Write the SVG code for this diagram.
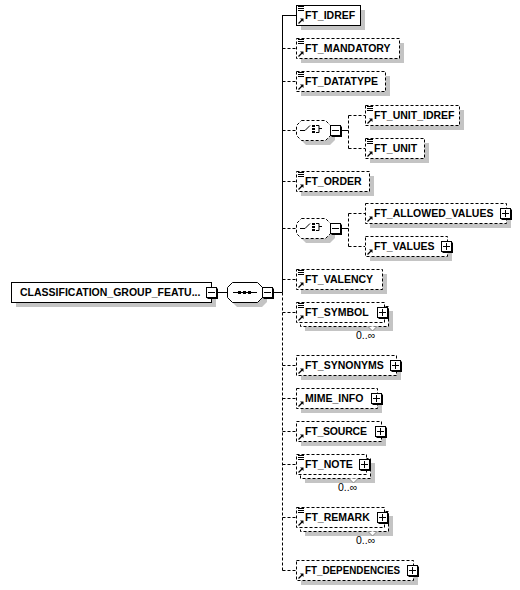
<svg xmlns="http://www.w3.org/2000/svg" xmlns:xlink="http://www.w3.org/1999/xlink" width="520" height="590" viewBox="0 0 520 590">
<style>
.sh{fill:#c4c4c4}
.bx{fill:#fff;stroke:#000;stroke-width:1}
.dash{stroke-dasharray:3,2}
.t{font-family:"Liberation Sans",Arial,sans-serif;font-weight:bold;font-size:10.5px;fill:#000}
.m{font-family:"Liberation Sans",Arial,sans-serif;font-size:10.5px;fill:#000}
.ln{fill:none;stroke:#000;stroke-width:1}
</style>
<defs>
<g id="doc"><path d="M0 0.5h6M0 2.5h6M0 4.5h6" stroke="#000" stroke-width="1"/></g>
<g id="ref"><path d="M1.5 -1.5L5 -5" stroke="#000" stroke-width="1.2"/><path d="M3 -6.5h3.5v3.5z" fill="#000"/></g>
<g id="plus"><rect x="1.5" y="1.5" width="10.5" height="10.5" fill="#000"/><rect x="0.5" y="0.5" width="10" height="10" fill="#fff" stroke="#000"/><path d="M2 5.5h7M5.5 2v7" stroke="#000"/></g>
<g id="minus"><rect x="1.5" y="1.5" width="10.5" height="10.5" fill="#000"/><rect x="0.5" y="0.5" width="10" height="10" fill="#fff" stroke="#000"/><path d="M2 5.5h7" stroke="#000"/></g>
<g id="choiceicon"><path d="M-13 0.5h5l5 -5" fill="none" stroke="#000"/><rect x="-1" y="-5" width="3" height="2" fill="#000"/><rect x="-1" y="-2" width="3" height="2" fill="#000"/><rect x="-1" y="1" width="3" height="2" fill="#000"/><path d="M3 -4.5h3v7h-3M6 -1.5h3" fill="none" stroke="#000"/></g>
</defs>

<g id="connectors">
<path class="ln" d="M216 292.5H227M272 292.5H282.5M282.5 15V292.5M282.5 15.5H296"/>
<path class="ln dash" d="M282.5 292.5V570.5M282.5 48.5H296M282.5 81.5H296M282.5 130.5H296M282.5 181.5H296M282.5 228.5H296M282.5 279.5H296M282.5 312.5H296M282.5 365.5H296M282.5 398.5H296M282.5 431.5H296M282.5 464.5H296M282.5 517.5H296M282.5 570.5H296"/>
<path class="ln" d="M340 130.5H348.5M340 228.5H348.5"/>
<path class="ln dash" d="M348.5 115.5V148.5M348.5 115.5H365M348.5 148.5H365M348.5 213.5V246.5M348.5 213.5H365M348.5 246.5H365"/>
</g>

<g id="root">
<rect class="sh" x="16" y="287" width="200" height="20"/>
<rect class="bx" x="11.5" y="282.5" width="200" height="20"/>
<text class="t" x="20" y="296">CLASSIFICATION_GROUP_FEATU...</text>
<use xlink:href="#minus" x="206" y="287"/>
</g>

<g id="sequence">
<polygon class="sh" points="237,287 262,287 267,292 267,302 262,307 237,307 232,302 232,292"/>
<polygon class="bx" points="232.5,282.5 257.5,282.5 262.5,287.5 262.5,297.5 257.5,302.5 232.5,302.5 227.5,297.5 227.5,287.5"/>
<path class="ln" d="M233 292.5H257"/>
<rect x="238" y="291" width="3" height="3" fill="#000"/>
<rect x="243" y="291" width="3" height="3" fill="#000"/>
<rect x="248" y="291" width="3" height="3" fill="#000"/>
<use xlink:href="#minus" x="262" y="287"/>
</g>

<g id="ft_idref">
<rect class="sh" x="301" y="10" width="64" height="20"/>
<rect class="bx" x="296.5" y="5.5" width="64" height="20"/>
<use xlink:href="#doc" x="298" y="6"/>
<use xlink:href="#ref" x="297" y="25"/>
<text class="t" x="305" y="19">FT_IDREF</text>
</g>

<g id="ft_mandatory">
<rect class="sh" x="301" y="43" width="103" height="20"/>
<rect class="bx dash" x="296.5" y="38.5" width="103" height="20"/>
<use xlink:href="#doc" x="298" y="39"/>
<use xlink:href="#ref" x="297" y="58"/>
<text class="t" x="305" y="52">FT_MANDATORY</text>
</g>

<g id="ft_datatype">
<rect class="sh" x="301" y="76" width="89" height="20"/>
<rect class="bx dash" x="296.5" y="71.5" width="89" height="20"/>
<use xlink:href="#doc" x="298" y="72"/>
<use xlink:href="#ref" x="297" y="91"/>
<text class="t" x="305" y="85">FT_DATATYPE</text>
</g>

<g id="choice1">
<polygon class="sh" points="306,125 330,125 335,130 335,140 330,145 306,145 301,140 301,130"/>
<polygon class="bx dash" points="301.5,120.5 325.5,120.5 330.5,125.5 330.5,135.5 325.5,140.5 301.5,140.5 296.5,135.5 296.5,125.5"/>
<use xlink:href="#choiceicon" x="313" y="130"/>
<use xlink:href="#minus" x="330" y="125"/>
</g>

<g id="ft_unit_idref">
<rect class="sh" x="370" y="110" width="94" height="20"/>
<rect class="bx dash" x="365.5" y="105.5" width="94" height="20"/>
<use xlink:href="#doc" x="367" y="106"/>
<use xlink:href="#ref" x="366" y="125"/>
<text class="t" x="374" y="119">FT_UNIT_IDREF</text>
</g>

<g id="ft_unit">
<rect class="sh" x="370" y="143" width="59" height="20"/>
<rect class="bx dash" x="365.5" y="138.5" width="59" height="20"/>
<use xlink:href="#doc" x="367" y="139"/>
<use xlink:href="#ref" x="366" y="158"/>
<text class="t" x="374" y="152">FT_UNIT</text>
</g>

<g id="ft_order">
<rect class="sh" x="301" y="176" width="73" height="20"/>
<rect class="bx dash" x="296.5" y="171.5" width="73" height="20"/>
<use xlink:href="#doc" x="298" y="172"/>
<use xlink:href="#ref" x="297" y="191"/>
<text class="t" x="305" y="185">FT_ORDER</text>
</g>

<g id="choice2">
<polygon class="sh" points="306,223 330,223 335,228 335,238 330,243 306,243 301,238 301,228"/>
<polygon class="bx dash" points="301.5,218.5 325.5,218.5 330.5,223.5 330.5,233.5 325.5,238.5 301.5,238.5 296.5,233.5 296.5,223.5"/>
<use xlink:href="#choiceicon" x="313" y="228"/>
<use xlink:href="#minus" x="330" y="223"/>
</g>

<g id="ft_allowed_values">
<rect class="sh" x="370" y="208" width="141" height="20"/>
<rect class="bx dash" x="365.5" y="203.5" width="141" height="20"/>
<use xlink:href="#ref" x="366" y="223"/>
<text class="t" x="374" y="217">FT_ALLOWED_VALUES</text>
<use xlink:href="#plus" x="500" y="208"/>
</g>

<g id="ft_values">
<rect class="sh" x="370" y="241" width="82" height="20"/>
<rect class="bx dash" x="365.5" y="236.5" width="82" height="20"/>
<use xlink:href="#ref" x="366" y="256"/>
<text class="t" x="374" y="250">FT_VALUES</text>
<use xlink:href="#plus" x="441" y="241"/>
</g>

<g id="ft_valency">
<rect class="sh" x="301" y="274" width="86" height="20"/>
<rect class="bx dash" x="296.5" y="269.5" width="86" height="20"/>
<use xlink:href="#doc" x="298" y="270"/>
<use xlink:href="#ref" x="297" y="289"/>
<text class="t" x="305" y="283">FT_VALENCY</text>
</g>

<g id="ft_symbol">
<rect class="sh" x="305" y="311" width="88" height="20"/>
<rect class="bx dash" x="300.5" y="306.5" width="88" height="20"/>
<rect class="bx dash" x="296.5" y="302.5" width="88" height="20"/>
<path d="M368 326.5L372.5 331L377 326.5" fill="#fff" stroke="#888"/>
<use xlink:href="#doc" x="298" y="303"/>
<use xlink:href="#ref" x="297" y="322"/>
<text class="t" x="305" y="316">FT_SYMBOL</text>
<use xlink:href="#plus" x="377" y="307"/>
<text class="m" x="356" y="339">0..∞</text>
</g>

<g id="ft_synonyms">
<rect class="sh" x="301" y="360" width="100" height="20"/>
<rect class="bx dash" x="296.5" y="355.5" width="100" height="20"/>
<use xlink:href="#ref" x="297" y="375"/>
<text class="t" x="305" y="369">FT_SYNONYMS</text>
<use xlink:href="#plus" x="390" y="360"/>
</g>

<g id="mime_info">
<rect class="sh" x="301" y="393" width="81" height="20"/>
<rect class="bx dash" x="296.5" y="388.5" width="81" height="20"/>
<use xlink:href="#ref" x="297" y="408"/>
<text class="t" x="305" y="402">MIME_INFO</text>
<use xlink:href="#plus" x="371" y="393"/>
</g>

<g id="ft_source">
<rect class="sh" x="301" y="426" width="85" height="20"/>
<rect class="bx dash" x="296.5" y="421.5" width="85" height="20"/>
<use xlink:href="#ref" x="297" y="441"/>
<text class="t" x="305" y="435" textLength="62">FT_SOURCE</text>
<use xlink:href="#plus" x="375" y="426"/>
</g>

<g id="ft_note">
<rect class="sh" x="305" y="463" width="70" height="20"/>
<rect class="bx dash" x="300.5" y="458.5" width="70" height="20"/>
<rect class="bx dash" x="296.5" y="454.5" width="70" height="20"/>
<path d="M349 478.5L353.5 483L358 478.5" fill="#fff" stroke="#888"/>
<use xlink:href="#doc" x="298" y="455"/>
<use xlink:href="#ref" x="297" y="474"/>
<text class="t" x="305" y="468">FT_NOTE</text>
<use xlink:href="#plus" x="359" y="459"/>
<text class="m" x="338" y="491">0..∞</text>
</g>

<g id="ft_remark">
<rect class="sh" x="305" y="516" width="88" height="20"/>
<rect class="bx dash" x="300.5" y="511.5" width="88" height="20"/>
<rect class="bx dash" x="296.5" y="507.5" width="88" height="20"/>
<path d="M368 531.5L372.5 536L377 531.5" fill="#fff" stroke="#888"/>
<use xlink:href="#doc" x="298" y="508"/>
<use xlink:href="#ref" x="297" y="527"/>
<text class="t" x="305" y="521">FT_REMARK</text>
<use xlink:href="#plus" x="377" y="512"/>
<text class="m" x="356" y="544">0..∞</text>
</g>

<g id="ft_dependencies">
<rect class="sh" x="301" y="565" width="117" height="20"/>
<rect class="bx dash" x="296.5" y="560.5" width="117" height="20"/>
<use xlink:href="#ref" x="297" y="580"/>
<text class="t" x="305" y="574" textLength="95" lengthAdjust="spacingAndGlyphs">FT_DEPENDENCIES</text>
<use xlink:href="#plus" x="407" y="565"/>
</g>
</svg>
